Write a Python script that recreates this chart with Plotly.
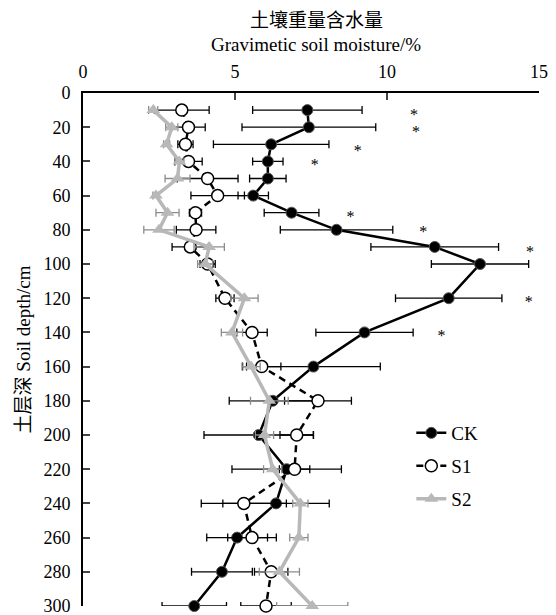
import plotly.graph_objects as go

depth = [10, 20, 30, 40, 50, 60, 70, 80, 90, 100, 120, 140, 160, 180, 200, 220, 240, 260, 280, 300]

ck = [7.38, 7.43, 6.19, 6.08, 6.08, 5.60, 6.86, 8.34, 11.57, 13.06, 12.03, 9.26, 7.58, 6.24, 5.78, 6.70, 6.35, 5.07, 4.57, 3.66]
ck_err = [1.8, 2.2, 1.9, 0.5, 0.6, 0.5, 0.9, 1.85, 2.1, 1.6, 1.75, 1.6, 2.2, 1.43, 1.8, 1.8, 1.75, 1.0, 1.0, 1.06]

s1 = [3.25, 3.47, 3.37, 3.47, 4.10, 4.43, 3.70, 3.72, 3.53, 4.10, 4.67, 5.56, 5.88, 7.73, 7.03, 6.96, 5.29, 5.56, 6.19, 6.02]
s1_err = [0.9, 0.55, 0.25, 0.45, 1.0, 0.88, 0.2, 0.65, 0.6, 0.25, 0.3, 0.5, 0.63, 1.1, 0.55, 0.5, 1.4, 0.8, 0.55, 0.83]

s2 = [2.31, 2.92, 2.75, 3.17, 3.11, 2.40, 2.78, 2.50, 4.15, 4.02, 5.31, 4.90, 5.53, 6.13, 5.97, 6.24, 7.15, 7.10, 6.46, 7.54]
s2_err = [0.15, 0.2, 0.1, 0.15, 0.41, 0.1, 0.38, 0.5, 0.5, 0.25, 0.45, 0.35, 0.3, 0.62, 0.3, 0.3, 0.25, 0.3, 0.66, 1.17]

sig_x = [10.89, 10.95, 9.04, 7.62, 8.80, 11.19, 14.70, 15.53, 14.66, 11.79]
sig_depth = [13.5, 23.5, 34.5, 42.5, 73, 82, 93.5, 103.5, 123, 142.5]

x_ticks = [0, 5, 10, 15]
y_ticks = list(range(0, 301, 20))

title_cn = "土壤重量含水量"
title_en = "Gravimetic soil moisture/%"
y_title = "土层深 Soil depth/cm"

FONT = "Liberation Serif, Times New Roman, Noto Sans CJK SC, serif"
GRAY = "#b8b8b8"

fig = go.Figure()

fig.add_trace(go.Scatter(
    x=ck, y=depth, name="CK", mode="lines+markers", legend="legend",
    line=dict(color="black", width=2.5),
    marker=dict(symbol="circle", size=11, color="black", line=dict(color="#555555", width=1)),
    error_x=dict(type="data", array=ck_err, color="black", thickness=1.3, width=4),
    cliponaxis=False,
))
fig.add_trace(go.Scatter(
    x=s1, y=depth, name="S1", mode="lines+markers", legend="legend2",
    line=dict(color="black", width=2.5, dash="7px,5px"),
    marker=dict(symbol="circle", size=12, color="white", line=dict(color="black", width=1.5)),
    error_x=dict(type="data", array=s1_err, color="black", thickness=1.3, width=4),
    cliponaxis=False,
))
fig.add_trace(go.Scatter(
    x=s2, y=depth, name="S2", mode="lines+markers", legend="legend3",
    line=dict(color=GRAY, width=3.5),
    marker=dict(symbol="triangle-up", size=12, color=GRAY),
    error_x=dict(type="data", array=s2_err, color="#8c8c8c", thickness=1.3, width=4),
    cliponaxis=False,
))
fig.add_trace(go.Scatter(
    x=sig_x, y=sig_depth, mode="text", text=["*"] * len(sig_x),
    textfont=dict(family=FONT, size=16, color="black"),
    showlegend=False, cliponaxis=False, hoverinfo="skip",
))

leg_common = dict(xanchor="left", yanchor="middle", font=dict(family=FONT, size=19),
                  bgcolor="rgba(0,0,0,0)", x=0.72)

fig.update_layout(
    width=556, height=615,
    margin=dict(l=83, r=17, t=93, b=9, autoexpand=False),
    paper_bgcolor="white", plot_bgcolor="white",
    font=dict(family=FONT, size=18, color="black"),
    showlegend=True,
    legend=dict(y=(606 - 433) / 513, **leg_common),
    legend2=dict(y=(606 - 466) / 513, **leg_common),
    legend3=dict(y=(606 - 499) / 513, **leg_common),
    xaxis=dict(side="top", range=[0, 15], tickvals=x_ticks, ticks="inside", ticklen=7,
               tickwidth=1.5, showline=True, linewidth=2, linecolor="black",
               showgrid=False, zeroline=False, tickfont=dict(family=FONT, size=18),
               ticklabelstandoff=6, ticklabeloverflow="allow", automargin=False),
    yaxis=dict(range=[300, 0], tickvals=y_ticks, ticks="inside", ticklen=7,
               tickwidth=1.5, showline=True, linewidth=2, linecolor="black",
               showgrid=False, zeroline=False, tickfont=dict(family=FONT, size=18),
               ticklabelstandoff=7, ticklabeloverflow="allow", automargin=False,
               title=dict(text=y_title, font=dict(family=FONT, size=19), standoff=8)),
    annotations=[
        dict(text=title_cn, xref="paper", yref="paper", x=0.511, y=1.146,
             xanchor="center", yanchor="middle", showarrow=False,
             font=dict(size=19, family="Noto Sans CJK SC, sans-serif")),
        dict(text=title_en, xref="paper", yref="paper", x=0.511, y=1.095,
             xanchor="center", yanchor="middle", showarrow=False,
             font=dict(family=FONT, size=19)),
    ],
)

fig.write_html("out.html")
